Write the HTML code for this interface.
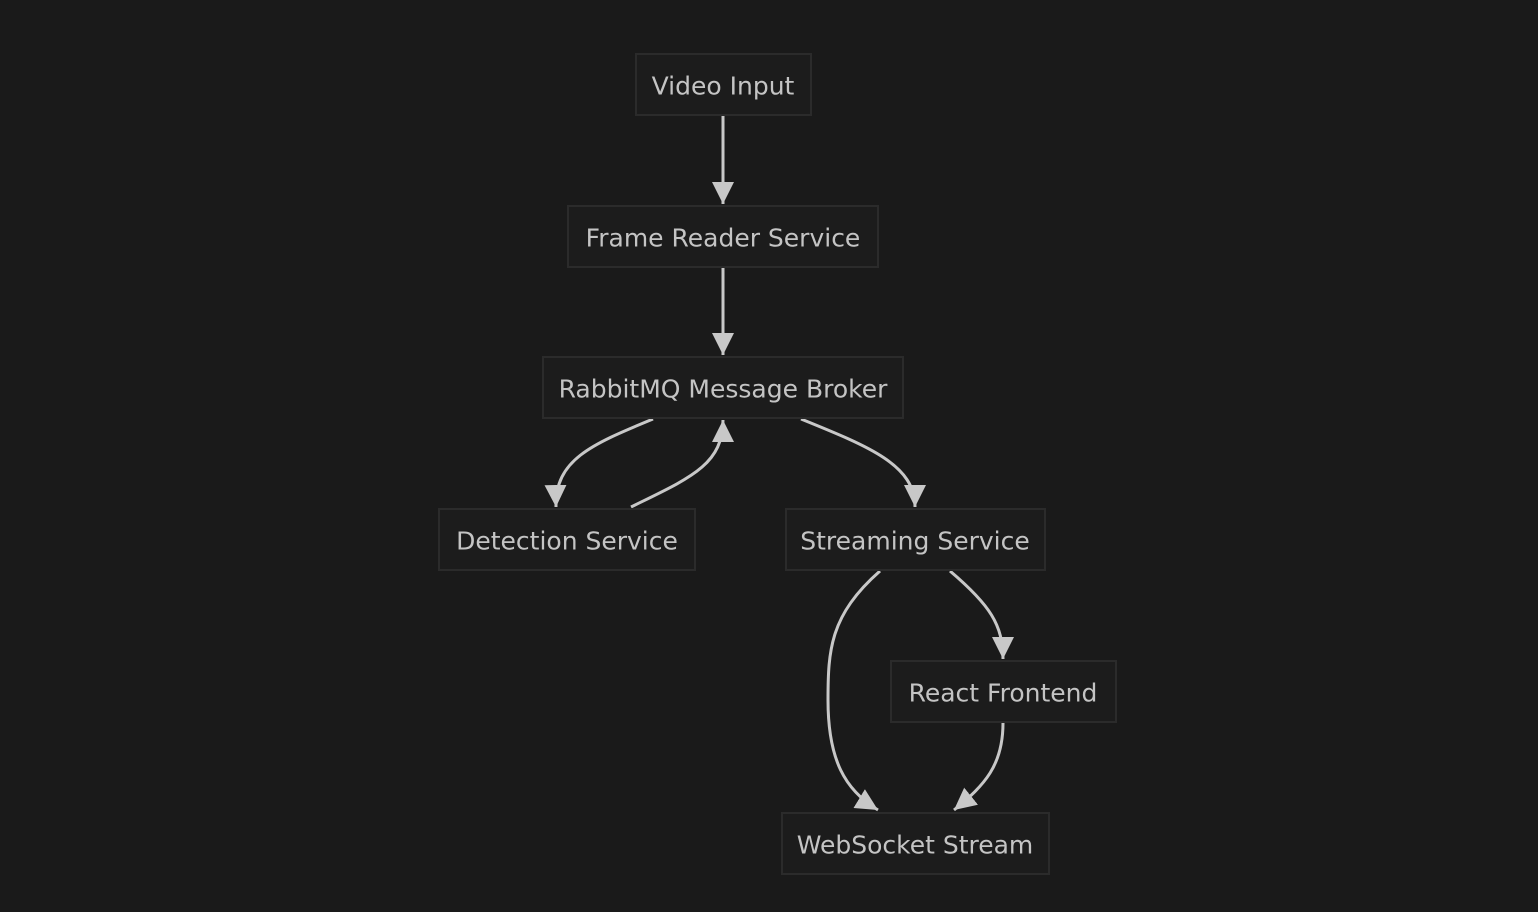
<!DOCTYPE html>
<html><head><style>
html,body{margin:0;padding:0;background:#1a1a1a;overflow:hidden;width:1538px;height:912px;}
svg{display:block;}
text{font-family:"DejaVu Sans","Liberation Sans",sans-serif;font-size:25px;fill:#c4c4c4;text-anchor:middle;dominant-baseline:central;}
rect{fill:#1c1c1c;stroke:#2b2b2b;stroke-width:2;}
path.e{fill:none;stroke:#c8c8c8;stroke-width:3;}
</style></head><body>
<svg width="1538" height="912" viewBox="0 0 1538 912" xmlns="http://www.w3.org/2000/svg">
<defs>
<marker id="m" viewBox="0 0 10 10" refX="10" refY="5" markerWidth="22" markerHeight="22" markerUnits="userSpaceOnUse" orient="auto"><path d="M0,0 L10,5 L0,10 z" fill="#c8c8c8"/></marker></defs>
<path class="e" d="M723,116 L723,204" marker-end="url(#m)"/>
<path class="e" d="M723,268 L723,355" marker-end="url(#m)"/>
<path class="e" d="M653,419 C590,445 555,460 556,507" marker-end="url(#m)"/>
<path class="e" d="M631,507 C690,478 723,465 723,420" marker-end="url(#m)"/>
<path class="e" d="M801,419 C870,447 915,465 915,507" marker-end="url(#m)"/>
<path class="e" d="M880,571 C830,615 828,650 828,700 C828,760 845,790 878,810" marker-end="url(#m)"/>
<path class="e" d="M950,571 C990,605 1003,625 1003,659" marker-end="url(#m)"/>
<path class="e" d="M1003,723 C1003,765 985,785 954,810" marker-end="url(#m)"/>
<rect x="636" y="54" width="175" height="61"/><text x="723" y="86">Video Input</text>
<rect x="568" y="206" width="310" height="61"/><text x="723" y="238">Frame Reader Service</text>
<rect x="543" y="357" width="360" height="61"/><text x="723" y="389">RabbitMQ Message Broker</text>
<rect x="439" y="509" width="256" height="61"/><text x="567" y="541">Detection Service</text>
<rect x="786" y="509" width="259" height="61"/><text x="915" y="541">Streaming Service</text>
<rect x="891" y="661" width="225" height="61"/><text x="1003" y="693">React Frontend</text>
<rect x="782" y="813" width="267" height="61"/><text x="915" y="845">WebSocket Stream</text>
</svg>
</body></html>
